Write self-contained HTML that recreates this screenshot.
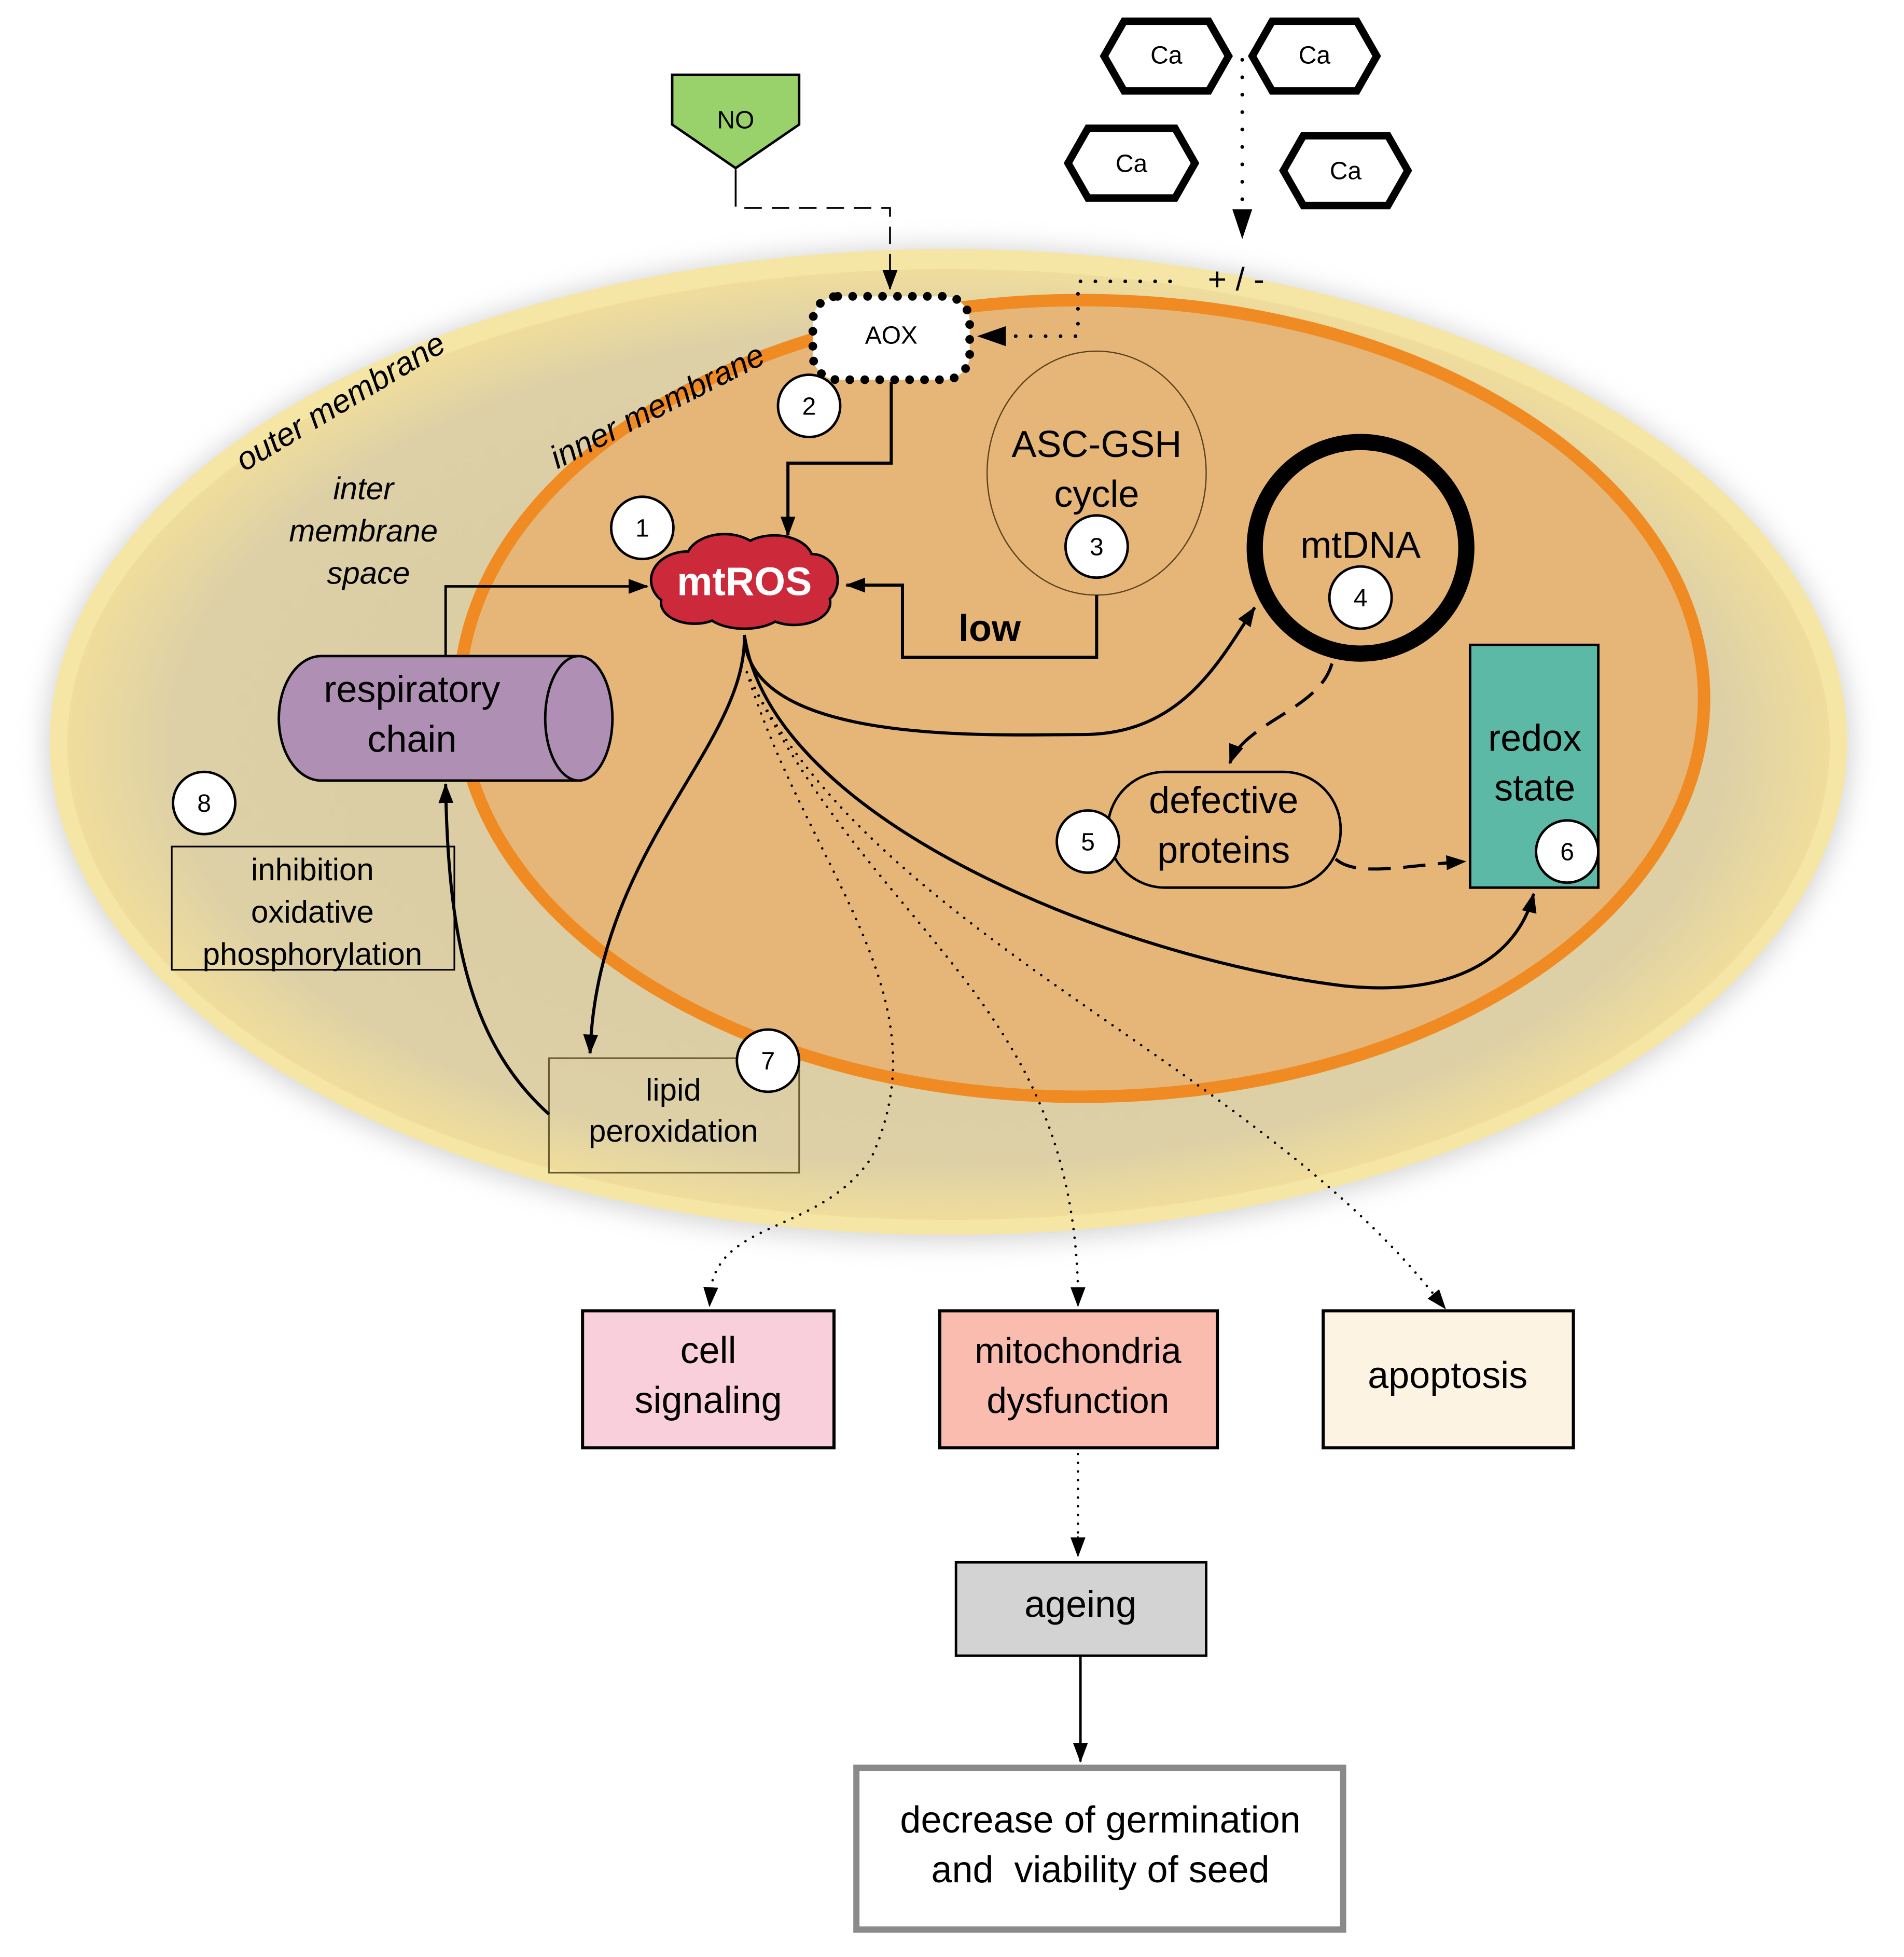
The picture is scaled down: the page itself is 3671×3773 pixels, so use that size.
<!DOCTYPE html>
<html><head><meta charset="utf-8"><style>
html,body{margin:0;padding:0;background:#fff}
svg{display:block}
text{font-family:"Liberation Sans",sans-serif}
</style></head><body>
<svg width="3671" height="3773" viewBox="0 0 1529.6 1572" xmlns="http://www.w3.org/2000/svg">
<defs>
<marker id="ah" viewBox="0 0 16 12" refX="15" refY="6" markerWidth="16" markerHeight="12" markerUnits="userSpaceOnUse" orient="auto"><path d="M0,0 L16,6 L0,12 z" fill="#000"/></marker>
<radialGradient id="og" cx="0.5" cy="0.5" r="0.5">
<stop offset="0" stop-color="#d9c89f"/><stop offset="0.88" stop-color="#ddd0a6"/><stop offset="1" stop-color="#f0dd9c"/></radialGradient>
<filter id="bl" x="-10%" y="-10%" width="120%" height="120%"><feGaussianBlur stdDeviation="10"/></filter>
</defs>
<ellipse cx="762" cy="598" rx="726" ry="400" fill="#bbb" filter="url(#bl)" opacity="0.6"/>
<ellipse cx="762" cy="596" rx="722" ry="396" fill="#f5e6a6"/>
<ellipse cx="762" cy="598" rx="708" ry="382" fill="url(#og)"/>
<ellipse cx="869" cy="561" rx="500" ry="320" fill="#e5b677" stroke="#ef8b22" stroke-width="10"/>

<text transform="translate(278,330) rotate(-31)" text-anchor="middle" font-size="26" font-style="italic">outer membrane</text>
<text transform="translate(532,334) rotate(-27)" text-anchor="middle" font-size="26" font-style="italic">inner membrane</text>
<text x="292" y="401" text-anchor="middle" font-size="25" font-style="italic">inter</text>
<text x="292" y="435" text-anchor="middle" font-size="25" font-style="italic">membrane</text>
<text x="296" y="469" text-anchor="middle" font-size="25" font-style="italic">space</text>

<polygon points="540,60 642,60 642,100 591,135 540,100" fill="#99d26b" stroke="#000" stroke-width="2"/>
<text x="591" y="103" text-anchor="middle" font-size="20">NO</text>
<line x1="591" y1="136" x2="591" y2="152" stroke="#000" stroke-width="1.5"/>
<path d="M591,152 V167 H715 V232" fill="none" stroke="#000" stroke-width="1.5" stroke-dasharray="14,8" marker-end="url(#ah)"/>

<g fill="#fff" stroke="#000" stroke-width="6" stroke-linejoin="miter">
<polygon points="887,45 903,17 971,17 987,45 971,73 903,73"/>
<polygon points="1006,45 1022,17 1090,17 1106,45 1090,73 1022,73"/>
<polygon points="858,131 874,103 944,103 960,131 944,159 874,159"/>
<polygon points="1031,137 1047,109 1115,109 1131,137 1115,165 1047,165"/>
</g>
<g font-size="20" text-anchor="middle"><text x="937" y="51">Ca</text><text x="1056" y="51">Ca</text><text x="909" y="138">Ca</text><text x="1081" y="144">Ca</text></g>
<line x1="998" y1="48" x2="998" y2="170" stroke="#000" stroke-width="3" stroke-dasharray="0,14" stroke-linecap="round"/>
<polygon points="990,168 1006,168 998,192" fill="#000"/>
<text x="993" y="233" text-anchor="middle" font-size="26">+ / -</text>
<path d="M940,226 H866 V270 H815" fill="none" stroke="#000" stroke-width="3" stroke-dasharray="0,12" stroke-linecap="round"/>
<polygon points="808,262 808,278 785,270" fill="#000"/>

<rect x="653" y="238" width="126" height="67" rx="20" fill="#fff" stroke="#000" stroke-width="7" stroke-dasharray="0,12" stroke-linecap="round"/>
<text x="716" y="276" text-anchor="middle" font-size="20">AOX</text>
<path d="M716,307 V372 H633 V430" fill="none" stroke="#000" stroke-width="2.5" marker-end="url(#ah)"/>

<ellipse cx="881" cy="380" rx="88" ry="98" fill="none" stroke="#5a4020" stroke-width="1"/>
<text x="881" y="367" text-anchor="middle" font-size="30">ASC-GSH</text>
<text x="881" y="407" text-anchor="middle" font-size="30">cycle</text>
<path d="M881,478 V528 H725 V470 H680" fill="none" stroke="#000" stroke-width="2.5" marker-end="url(#ah)"/>
<text x="795" y="515" text-anchor="middle" font-size="30" font-weight="bold">low</text>

<circle cx="1093" cy="440" r="85" fill="none" stroke="#000" stroke-width="13"/>
<text x="1093" y="448" text-anchor="middle" font-size="30">mtDNA</text>

<rect x="1181" y="518" width="103" height="195" fill="#5bb9a6" stroke="#000" stroke-width="2"/>
<text x="1233" y="603" text-anchor="middle" font-size="30">redox</text>
<text x="1233" y="643" text-anchor="middle" font-size="30">state</text>

<rect x="890" y="620" width="187" height="93" rx="46" fill="none" stroke="#000" stroke-width="2"/>
<text x="983" y="653" text-anchor="middle" font-size="30">defective</text>
<text x="983" y="693" text-anchor="middle" font-size="30">proteins</text>
<path d="M1070,533 C1060,570 1000,580 988,613" fill="none" stroke="#000" stroke-width="2.5" stroke-dasharray="18,10" marker-end="url(#ah)"/>
<path d="M1073,690 C1090,705 1130,695 1177,692" fill="none" stroke="#000" stroke-width="2.5" stroke-dasharray="18,10" marker-end="url(#ah)"/>

<path d="M465,527 H258 A34,50 0 0 0 258,627 H465" fill="#b08fb5" stroke="#000" stroke-width="2"/>
<ellipse cx="465" cy="577" rx="27" ry="50" fill="#b08fb5" stroke="#000" stroke-width="2"/>
<text x="331" y="564" text-anchor="middle" font-size="30">respiratory</text>
<text x="331" y="604" text-anchor="middle" font-size="30">chain</text>
<path d="M358,527 V471 H520" fill="none" stroke="#000" stroke-width="2" marker-end="url(#ah)"/>

<rect x="138" y="680" width="227" height="99" fill="none" stroke="#000" stroke-width="1.3"/>
<text x="251" y="707" text-anchor="middle" font-size="25">inhibition</text>
<text x="251" y="741" text-anchor="middle" font-size="25">oxidative</text>
<text x="251" y="775" text-anchor="middle" font-size="25">phosphorylation</text>

<rect x="441" y="850" width="201" height="92" fill="none" stroke="#6a5a30" stroke-width="1.3"/>
<text x="541" y="884" text-anchor="middle" font-size="25">lipid</text>
<text x="541" y="917" text-anchor="middle" font-size="25">peroxidation</text>
<path d="M441,895 C380,840 360,760 358,630" fill="none" stroke="#000" stroke-width="2.5" marker-end="url(#ah)"/>

<path d="M598,510 C600,600 800,590 870,590 C950,590 980,530 1008,488" fill="none" stroke="#000" stroke-width="2.5" marker-end="url(#ah)"/>
<path d="M598,510 C600,600 480,680 474,846" fill="none" stroke="#000" stroke-width="2.5" marker-end="url(#ah)"/>
<path d="M598,510 C620,660 900,770 1080,792 C1180,802 1222,760 1232,718" fill="none" stroke="#000" stroke-width="2.5" marker-end="url(#ah)"/>
<g fill="none" stroke="#000" stroke-width="2" stroke-dasharray="0,7" stroke-linecap="round">
<path d="M600,540 C650,700 760,800 700,930 C660,990 580,980 571,1035"/>
<path d="M600,540 C700,750 860,800 866,1035"/>
<path d="M600,540 C700,750 1000,850 1152,1040"/>
<path d="M866,1168 V1235"/>
</g>
<path d="M571,1034 L570,1049" stroke="#000" marker-end="url(#ah)"/>
<path d="M866,1034 L866,1049" stroke="#000" marker-end="url(#ah)"/>
<path d="M1152,1040 L1161,1051" stroke="#000" marker-end="url(#ah)"/>
<path d="M866,1234 L866,1250" stroke="#000" marker-end="url(#ah)"/>

<g stroke="#000" stroke-width="4" fill="#000">
<ellipse cx="552" cy="466" rx="28" ry="22"/><ellipse cx="582" cy="450" rx="30" ry="20"/><ellipse cx="622" cy="450" rx="30" ry="19"/><ellipse cx="652" cy="466" rx="20" ry="20"/><ellipse cx="638" cy="484" rx="28" ry="17"/><ellipse cx="598" cy="488" rx="32" ry="16"/><ellipse cx="558" cy="484" rx="26" ry="16"/>
</g>
<g fill="#cc2a3b">
<ellipse cx="552" cy="466" rx="28" ry="22"/><ellipse cx="582" cy="450" rx="30" ry="20"/><ellipse cx="622" cy="450" rx="30" ry="19"/><ellipse cx="652" cy="466" rx="20" ry="20"/><ellipse cx="638" cy="484" rx="28" ry="17"/><ellipse cx="598" cy="488" rx="32" ry="16"/><ellipse cx="558" cy="484" rx="26" ry="16"/><ellipse cx="600" cy="467" rx="50" ry="20"/>
</g>
<text x="598" y="478" text-anchor="middle" font-size="32" font-weight="bold" fill="#fff">mtROS</text>

<g fill="#fff" stroke="#000" stroke-width="2">
<circle cx="516" cy="424" r="25"/><circle cx="650" cy="326" r="25"/><circle cx="881" cy="439" r="25"/><circle cx="1093" cy="480" r="25"/><circle cx="874" cy="676" r="25"/><circle cx="1259" cy="684" r="25"/><circle cx="617" cy="852" r="25"/><circle cx="164" cy="645" r="25"/>
</g>
<g font-size="20" text-anchor="middle">
<text x="516" y="431">1</text><text x="650" y="333">2</text><text x="881" y="446">3</text><text x="1093" y="487">4</text><text x="874" y="683">5</text><text x="1259" y="691">6</text><text x="617" y="859">7</text><text x="164" y="652">8</text>
</g>

<rect x="468" y="1053" width="202" height="110" fill="#f8cfdb" stroke="#000" stroke-width="2.5"/>
<text x="569" y="1095" text-anchor="middle" font-size="30">cell</text>
<text x="569" y="1135" text-anchor="middle" font-size="30">signaling</text>
<rect x="755" y="1053" width="223" height="110" fill="#fbbcb0" stroke="#000" stroke-width="2.5"/>
<text x="866" y="1095" text-anchor="middle" font-size="29">mitochondria</text>
<text x="866" y="1135" text-anchor="middle" font-size="29">dysfunction</text>
<rect x="1063" y="1053" width="201" height="110" fill="#fdf3e3" stroke="#000" stroke-width="2.5"/>
<text x="1163" y="1115" text-anchor="middle" font-size="30">apoptosis</text>
<rect x="768" y="1255" width="201" height="75" fill="#d3d3d3" stroke="#000" stroke-width="2"/>
<text x="868" y="1299" text-anchor="middle" font-size="30">ageing</text>
<path d="M868,1330 V1415" stroke="#000" stroke-width="2" marker-end="url(#ah)"/>
<rect x="688" y="1420" width="391" height="130" fill="#fff" stroke="#8a8a8a" stroke-width="5"/>
<text x="884" y="1472" text-anchor="middle" font-size="30">decrease of germination</text>
<text x="884" y="1512" text-anchor="middle" font-size="30" xml:space="preserve">and  viability of seed</text>
</svg>
</body></html>
